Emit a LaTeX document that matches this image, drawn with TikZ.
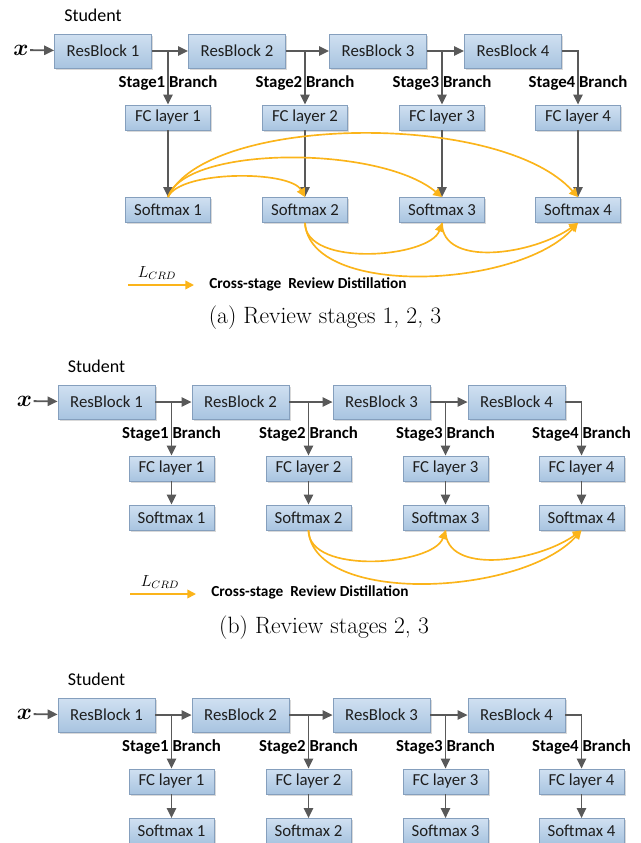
\documentclass[tikz,border=0pt]{standalone}
\usepackage{bm}
\usepackage{fontspec}
\newfontfamily\calfont{Carlito}
\usetikzlibrary{arrows.meta,shadows,calc}
\definecolor{boxtop}{HTML}{D0E0F1}
\definecolor{boxbot}{HTML}{A8C4E0}
\definecolor{boxedge}{HTML}{859FBD}
\definecolor{garr}{HTML}{595959}
\definecolor{oarr}{HTML}{FBB41A}
\definecolor{txt}{HTML}{1E1E1E}
\tikzset{
  blk/.style={draw=boxedge, line width=0.6pt, top color=boxtop, bottom color=boxbot,
    drop shadow={shadow xshift=1.2pt, shadow yshift=-1.2pt, opacity=0.3, fill=gray},
    font=\calfont\fontsize{12.6}{14}\selectfont, text=txt, inner sep=0pt},
  rbox/.style={blk, minimum width=72.75pt, minimum height=25.5pt},
  sbox/.style={blk, minimum width=63.75pt, minimum height=18.75pt},
  garrow/.style={draw=garr, line width=1.35pt, -{Triangle[length=7.5pt,width=7pt]}},
  oarrow/.style={draw=oarr, line width=1.25pt, -{Triangle[length=6.5pt,width=6.5pt]}},
  stagelbl/.style={font=\calfont\bfseries\fontsize{12.6}{14}\selectfont, text=black, inner sep=0pt},
  stulbl/.style={font=\calfont\fontsize{13.5}{15}\selectfont, text=black, inner sep=0pt},
  xlbl/.style={font=\fontsize{19}{21}\selectfont, inner sep=1pt},
  caplbl/.style={font=\fontsize{17.7}{20}\selectfont, inner sep=0pt},
  legtxt/.style={font=\calfont\bfseries\fontsize{11.5}{13}\selectfont, inner sep=0pt, anchor=west},
  lossl/.style={font=\fontsize{12}{14}\selectfont, inner sep=0pt}
}
\newcommand\drawpanel[4]{%
\begin{scope}[shift={(#2,#3)}, name prefix=#1-]
  \node[stulbl] (stu) at (93,15) {Student};
  \node[xlbl] (xin) at (21,50) {$\bm{x}$};
  \node[rbox] (rb1) at (103,51) {ResBlock 1};
  \node[rbox] (rb2) at (237,51) {ResBlock 2};
  \node[rbox] (rb3) at (378,51) {ResBlock 3};
  \node[rbox] (rb4) at (513,51) {ResBlock 4};
  \node[stagelbl] (st1) at (168,83) {Stage1 Branch};
  \node[stagelbl] (st2) at (305,83) {Stage2 Branch};
  \node[stagelbl] (st3) at (442,83) {Stage3 Branch};
  \node[stagelbl] (st4) at (578,83) {Stage4 Branch};
  \node[sbox] (fc1) at (168,117.5) {FC layer 1};
  \node[sbox] (fc2) at (305,117.5) {FC layer 2};
  \node[sbox] (fc3) at (442,117.5) {FC layer 3};
  \node[sbox] (fc4) at (578,117.5) {FC layer 4};
  \node[sbox] (sm1) at (168,#4) {Softmax 1};
  \node[sbox] (sm2) at (305,#4) {Softmax 2};
  \node[sbox] (sm3) at (442,#4) {Softmax 3};
  \node[sbox] (sm4) at (578,#4) {Softmax 4};
  \draw[garrow] (xin) -- (rb1);
  \draw[garrow] (rb1) -- (rb2);
  \draw[garrow] (rb2) -- (rb3);
  \draw[garrow] (rb3) -- (rb4);
  \draw[garrow] (rb1.east -| fc1.north) -- (fc1);
  \draw[garrow] (rb2.east -| fc2.north) -- (fc2);
  \draw[garrow] (rb3.east -| fc3.north) -- (fc3);
  \draw[garrow] (rb4.east) -| (fc4);
  \draw[garrow] (fc1) -- (sm1);
  \draw[garrow] (fc2) -- (sm2);
  \draw[garrow] (fc3) -- (sm3);
  \draw[garrow] (fc4) -- (sm4);
\end{scope}}
\begin{document}
\begin{tikzpicture}[x=0.75pt,y=-0.75pt]
\useasboundingbox (0,0) rectangle (640,843);
% panel (a)
\drawpanel{a}{0}{0}{210}
\draw[oarrow] (a-sm1.north) .. controls +(12,-27) and +(-15,-27) .. (a-sm2.north);
\draw[oarrow] (a-sm1.north) .. controls +(17,-52) and +(-62,-52) .. (a-sm3.north);
\draw[oarrow] (a-sm1.north) .. controls +(37,-82) and +(-78,-87) .. (a-sm4.north);
\draw[oarrow] (a-sm2.south) .. controls +(0,45) and +(-12,35) .. (a-sm3.south);
\draw[oarrow] (a-sm3.south) .. controls +(0,45) and +(-45,32) .. (a-sm4.south);
\draw[oarrow] (a-sm2.south) .. controls +(5,75) and +(-60,66) .. (a-sm4.south);
\coordinate (la0) at (128,285);
\coordinate (la1) at (194,285);
\draw[oarrow] (la0) -- (la1);
\node[lossl] (lossa) at (157,273) {$L_{CRD}$};
\node[legtxt] (lega) at (209,284) {Cross-stage\ \ Review Distillation};
\node[caplbl] (capa) at (325,318) {(a) Review stages 1, 2, 3};
% panel (b)
\drawpanel{b}{3.5}{351}{166.5}
\draw[oarrow] (b-sm2.south) .. controls +(0,45) and +(-12,35) .. (b-sm3.south);
\draw[oarrow] (b-sm3.south) .. controls +(0,45) and +(-45,32) .. (b-sm4.south);
\draw[oarrow] (b-sm2.south) .. controls +(5,75) and +(-60,66) .. (b-sm4.south);
\coordinate (lb0) at (130,594);
\coordinate (lb1) at (196,594);
\draw[oarrow] (lb0) -- (lb1);
\node[lossl] (lossb) at (160,582) {$L_{CRD}$};
\node[legtxt] (legb) at (211,592) {Cross-stage\ \ Review Distillation};
\node[caplbl] (capb) at (324,628) {(b) Review stages 2, 3};
% panel (c)
\drawpanel{c}{3.5}{664}{167}
\end{tikzpicture}
\end{document}
